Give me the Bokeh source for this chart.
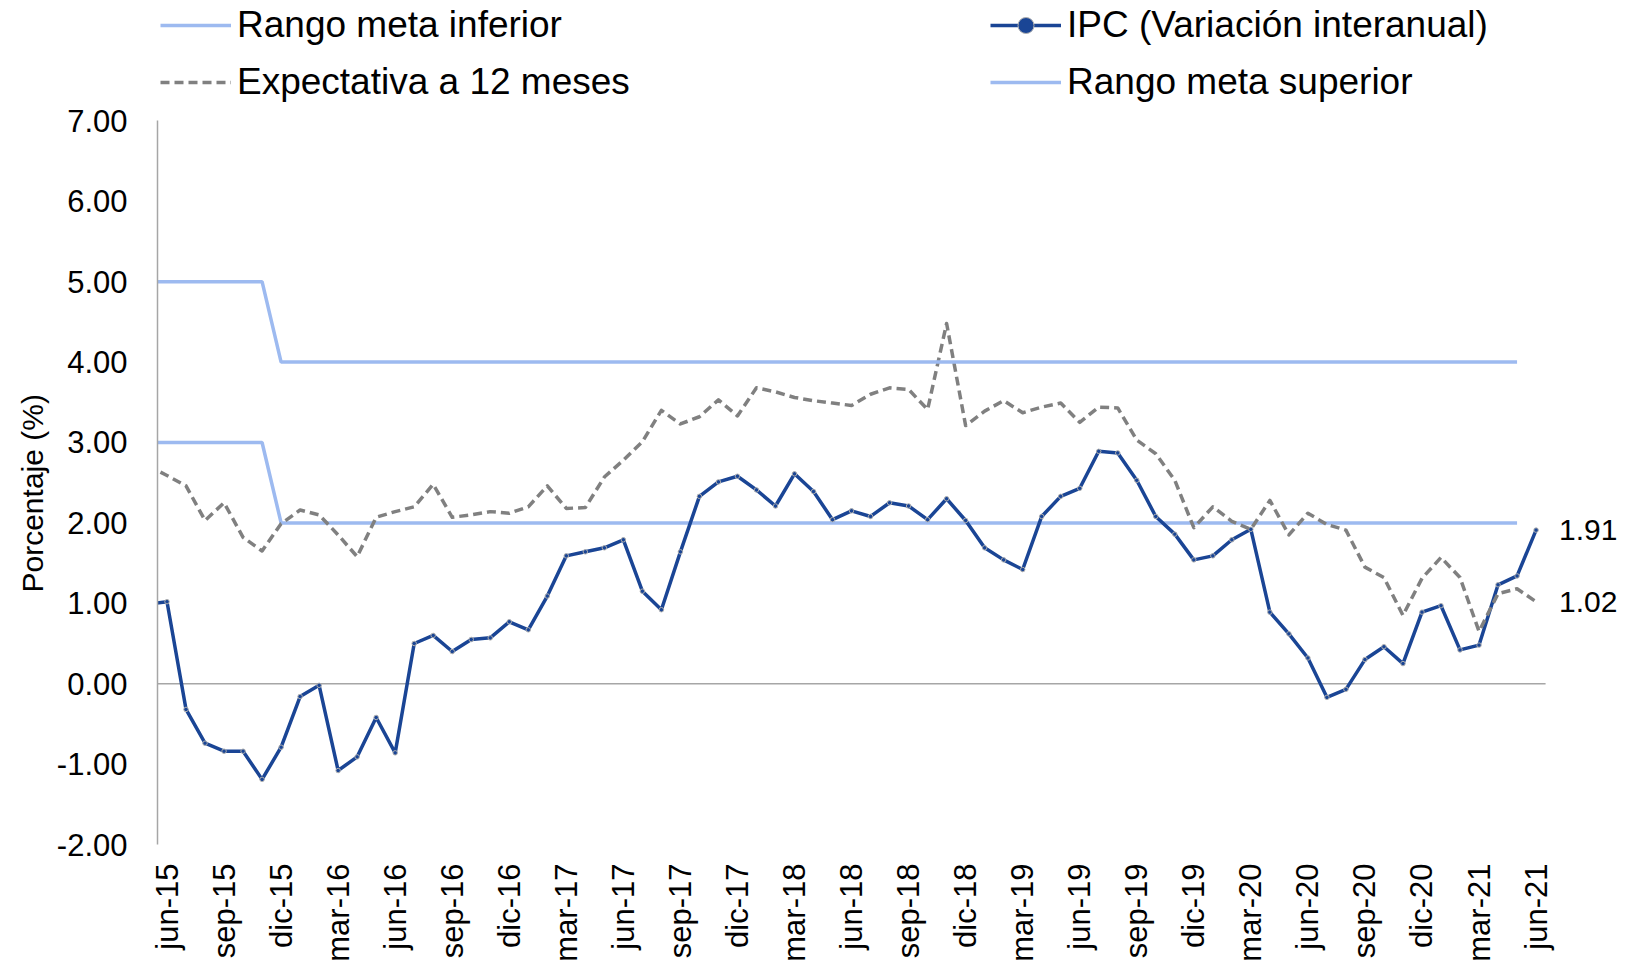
import math
from bokeh.plotting import figure
from bokeh.models import (Range1d, FixedTicker, NumeralTickFormatter, Legend,
                          LegendItem, LabelSet, ColumnDataSource, Title)
from bokeh.core.properties import value
from bokeh.embed import file_html
from bokeh.resources import INLINE

# ---------------- data ----------------
# x index: jun-15 = 0 ... jun-21 = 72 ; first value of each series is may-15 (index -1, clipped by the axis)
ipc = [0.99,
       1.02, -0.32, -0.74, -0.84, -0.84, -1.19, -0.79, -0.16, -0.02, -1.08, -0.91, -0.42,
       -0.86, 0.50, 0.60, 0.40, 0.55, 0.57, 0.77, 0.67, 1.09, 1.59, 1.64, 1.69,
       1.79, 1.15, 0.92, 1.64, 2.33, 2.51, 2.58, 2.41, 2.21, 2.61, 2.39, 2.04,
       2.15, 2.08, 2.25, 2.21, 2.04, 2.30, 2.03, 1.69, 1.54, 1.42, 2.08, 2.33,
       2.43, 2.89, 2.87, 2.53, 2.08, 1.86, 1.54, 1.59, 1.79, 1.92, 0.89, 0.62,
       0.32, -0.17, -0.07, 0.30, 0.46, 0.25, 0.89, 0.97, 0.42, 0.48, 1.23, 1.34,
       1.91]
expectativa = [2.71,
               2.59, 2.46, 2.03, 2.25, 1.82, 1.65, 1.99, 2.16, 2.10, 1.85, 1.58, 2.07,
               2.14, 2.20, 2.48, 2.07, 2.10, 2.14, 2.12, 2.20, 2.46, 2.18, 2.19, 2.57,
               2.78, 3.01, 3.40, 3.23, 3.32, 3.53, 3.33, 3.68, 3.63, 3.56, 3.52, 3.49,
               3.46, 3.60, 3.68, 3.66, 3.41, 4.48, 3.21, 3.39, 3.52, 3.37, 3.44, 3.49,
               3.25, 3.44, 3.43, 3.03, 2.86, 2.53, 1.94, 2.20, 2.02, 1.92, 2.28, 1.85,
               2.12, 1.98, 1.91, 1.45, 1.32, 0.85, 1.31, 1.57, 1.32, 0.65, 1.12, 1.18,
               1.02]
# may-15 ... may-21
meta_inferior = [3, 3, 3, 3, 3, 3, 3,
                 2, 2, 2, 2, 2, 2, 2, 2, 2, 2, 2, 2, 2, 2, 2, 2, 2, 2, 2, 2, 2, 2,
                 2, 2, 2, 2, 2, 2, 2, 2, 2, 2, 2, 2, 2, 2, 2, 2, 2, 2, 2, 2, 2, 2,
                 2, 2, 2, 2, 2, 2, 2, 2, 2, 2, 2, 2, 2, 2, 2, 2, 2, 2, 2, 2, 2, 2]
meta_superior = [5, 5, 5, 5, 5, 5, 5,
                 4, 4, 4, 4, 4, 4, 4, 4, 4, 4, 4, 4, 4, 4, 4, 4, 4, 4, 4, 4, 4, 4,
                 4, 4, 4, 4, 4, 4, 4, 4, 4, 4, 4, 4, 4, 4, 4, 4, 4, 4, 4, 4, 4, 4,
                 4, 4, 4, 4, 4, 4, 4, 4, 4, 4, 4, 4, 4, 4, 4, 4, 4, 4, 4, 4, 4, 4]
tick_labels = ["jun-15", "sep-15", "dic-15", "mar-16", "jun-16", "sep-16", "dic-16",
               "mar-17", "jun-17", "sep-17", "dic-17", "mar-18", "jun-18", "sep-18",
               "dic-18", "mar-19", "jun-19", "sep-19", "dic-19", "mar-20", "jun-20",
               "sep-20", "dic-20", "mar-21", "jun-21"]
y_ticks = [-2, -1, 0, 1, 2, 3, 4, 5, 6, 7]

FONT = "Liberation Sans"
C_IPC = "#1A4595"
C_META = "#9DBAF0"
C_EXP = "#808080"
C_AXIS = "#A6A6A6"

x_all = list(range(-1, len(ipc) - 1))
x_meta = list(range(-1, len(meta_inferior) - 1))
n_cat = len(ipc) - 1                      # 73 monthly categories (jun-15 .. jun-21)
x_lo, x_hi = -0.5, n_cat - 0.5            # category-axis extent

p = figure(width=1647, height=964, output_backend="svg", toolbar_location=None,
           title=None,
           x_range=Range1d(x_lo, 77.86), y_range=Range1d(-2, 8.497),
           min_border_left=157, min_border_right=0, min_border_top=0,
           min_border_bottom=119)
p.outline_line_color = None
p.xgrid.visible = False
p.ygrid.visible = False
p.background_fill_color = "white"

# y axis
ya = p.yaxis[0]
ya.ticker = FixedTicker(ticks=y_ticks)
ya.formatter = NumeralTickFormatter(format="0.00")
ya.bounds = (-2, 7)
ya.axis_line_color = C_AXIS
ya.axis_line_width = 1.5
ya.major_tick_line_color = None
ya.minor_tick_line_color = None
ya.major_tick_out = 0
ya.major_tick_in = 0
ya.major_label_standoff = 30
ya.major_label_text_font = FONT
ya.major_label_text_font_size = "31px"
ya.major_label_text_color = "black"

# x axis
xa = p.xaxis[0]
xa.ticker = FixedTicker(ticks=list(range(0, n_cat, 3)))
xa.major_label_overrides = {i * 3: lab for i, lab in enumerate(tick_labels)}
xa.major_label_orientation = math.pi / 2
xa.axis_line_color = None
xa.major_tick_line_color = None
xa.minor_tick_line_color = None
xa.major_tick_out = 0
xa.major_tick_in = 0
xa.major_label_standoff = 19
xa.major_label_text_font = FONT
xa.major_label_text_font_size = "31px"
xa.major_label_text_color = "black"

# horizontal category axis line at y = 0
p.segment(x0=[x_lo], y0=[0], x1=[x_hi], y1=[0], line_color=C_AXIS, line_width=1.5)

r_inf = p.line(x_meta, meta_inferior, line_color=C_META, line_width=3.5)
r_ipc = p.line(x_all, ipc, line_color=C_IPC, line_width=3.5, line_join="round")
r_ipc_m = p.scatter(x_all, ipc, marker="circle", size=4.5, fill_color=C_IPC,
                    line_color="#B0B0B0", line_width=1)
r_exp = p.line(x_all, expectativa, line_color=C_EXP, line_width=3.5, line_dash="9 5",
               line_join="round")
r_sup = p.line(x_meta, meta_superior, line_color=C_META, line_width=3.5)

def make_legend(items, loc):
    return Legend(items=items, location=loc, orientation="vertical",
                  label_text_font=FONT, label_text_font_size="37px",
                  label_text_color="black", glyph_width=71, glyph_height=40,
                  label_height=40, label_standoff=6, spacing=15, padding=0, margin=0,
                  border_line_color=None, background_fill_alpha=0)

leg1 = make_legend([LegendItem(label="Rango meta inferior", renderers=[r_inf]),
                    LegendItem(label="Expectativa a 12 meses", renderers=[r_exp])],
                   (3, 741))
leg2 = make_legend([LegendItem(label="IPC (Variación interanual)", renderers=[r_ipc, r_ipc_m]),
                    LegendItem(label="Rango meta superior", renderers=[r_sup])],
                   (833, 741))
p.add_layout(leg1)
p.add_layout(leg2)

p.add_layout(Title(text="Porcentaje (%)", align="left", offset=252,
                   text_font=FONT, text_font_size="30px", text_font_style="normal",
                   text_color="black"), "left")

end_src = ColumnDataSource(dict(x=[x_all[-1], x_all[-1]],
                                y=[ipc[-1], expectativa[-1]],
                                text=[f"{ipc[-1]:.2f}", f"{expectativa[-1]:.2f}"]))
p.add_layout(LabelSet(source=end_src, x="x", y="y", text="text", x_offset=23,
                      text_baseline="middle", text_font=value(FONT),
                      text_font_size=value("30px"), text_color="black"))

open("out.html", "w").write(file_html(p, INLINE))
